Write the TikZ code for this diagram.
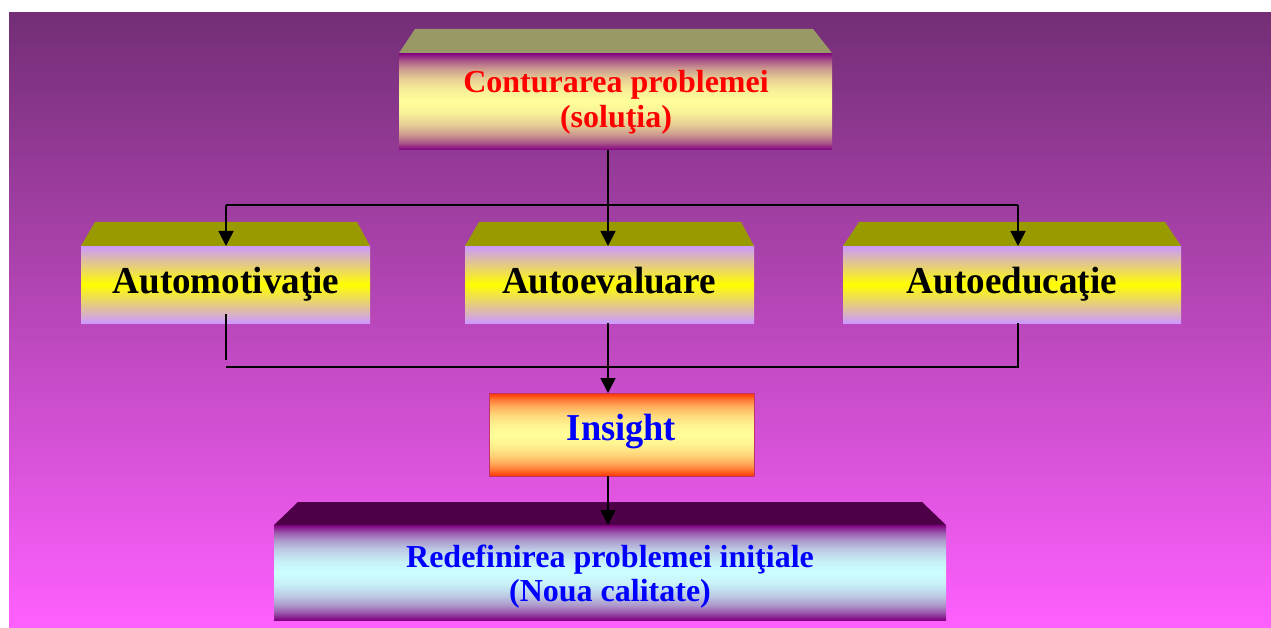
\documentclass[tikz,border=0pt]{standalone}
\usepackage{fontspec}
\setmainfont{Liberation Serif}
\usetikzlibrary{arrows.meta,calc}
\definecolor{bgtop}{RGB}{115,46,118}
\definecolor{bgbot}{RGB}{255,96,255}
\definecolor{pp}{RGB}{128,0,128}
\definecolor{paley}{RGB}{255,255,153}
\definecolor{olivegray}{RGB}{153,153,102}
\definecolor{olivedark}{RGB}{153,153,0}
\definecolor{lav}{RGB}{204,153,255}
\definecolor{yel}{RGB}{255,255,0}
\definecolor{redo}{RGB}{255,51,0}
\definecolor{cyanl}{RGB}{204,255,255}
\definecolor{darkp}{RGB}{77,0,72}
\definecolor{insborder}{RGB}{190,50,110}
\newcommand{\mkprofile}[3]{%
  \pgfdeclareverticalshading{#1}{100bp}{color(0bp)=(#2); color(25bp)=(#2);
    color(29bp)=(#2!65!#3); color(33bp)=(#2!40!#3); color(38bp)=(#2!20!#3);
    color(44bp)=(#2!6!#3); color(50bp)=(#3); color(56bp)=(#2!6!#3);
    color(62bp)=(#2!20!#3); color(67bp)=(#2!40!#3); color(71bp)=(#2!65!#3);
    color(75bp)=(#2); color(100bp)=(#2)}}
\mkprofile{shA}{pp}{paley}
\mkprofile{shC}{redo}{paley}
\mkprofile{shD}{pp}{cyanl}
\begin{document}
\begin{tikzpicture}[x=1pt,y=-1pt,
  box/.style={rectangle, inner sep=0pt, outer sep=0pt},
  frontA/.style={box, shade, shading=shA},
  frontB/.style={box, top color=lav, bottom color=lav, middle color=yel},
  frontC/.style={box, shade, shading=shC, draw=insborder, line width=1pt},
  frontD/.style={box, shade, shading=shD},
  conn/.style={line width=1.7pt, black},
  arr/.style={conn, -{Triangle[width=15pt,length=15pt]}},
  ttop/.style={anchor=base, text=red, font=\fontsize{32}{36}\selectfont\bfseries},
  tmid/.style={anchor=base, text=black, font=\fontsize{38}{42}\selectfont\bfseries},
  tins/.style={anchor=base, text=blue, font=\fontsize{38}{42}\selectfont\bfseries},
  tbot/.style={anchor=base, text=blue, font=\fontsize{32}{36}\selectfont\bfseries}
]
\useasboundingbox (0,0) rectangle (1271,628);
\shade[top color=bgtop, bottom color=bgbot] (9,13) rectangle (1271,628);

% top box
\node[frontA, minimum width=433pt, minimum height=97pt] (top) at (615.5,101.5) {};
\fill[olivegray] (top.north west) -- ++(16,-24) -- ($(top.north east)+(-19,-24)$) -- (top.north east) -- cycle;
\node[ttop] (t1) at (616,92.7) {Conturarea problemei};
\node[ttop] (t2) at (616,128) {(soluţia)};

% middle boxes
\node[frontB, minimum width=289pt, minimum height=77pt] (m1) at (225.5,284.5) {};
\fill[olivedark] (m1.north west) -- ++(14,-24) -- ($(m1.north east)+(-13,-24)$) -- (m1.north east) -- cycle;
\node[frontB, minimum width=289pt, minimum height=77pt] (m2) at (609.5,284.5) {};
\fill[olivedark] (m2.north west) -- ++(14,-24) -- ($(m2.north east)+(-13,-24)$) -- (m2.north east) -- cycle;
\node[frontB, minimum width=338pt, minimum height=77pt] (m3) at (1012,284.5) {};
\fill[olivedark] (m3.north west) -- ++(16,-24) -- ($(m3.north east)+(-16,-24)$) -- (m3.north east) -- cycle;
\node[tmid] (l1) at (226,293) {\scalebox{0.976}[1]{Automotivaţie}};
\node[tmid] (l2) at (609,293) {\scalebox{0.976}[1]{Autoevaluare}};
\node[tmid] (l3) at (1012,293) {\scalebox{0.976}[1]{Autoeducaţie}};

% insight
\node[frontC, minimum width=265pt, minimum height=83pt] (ins) at (621.5,434.5) {};
\node[tins] (li) at (621.5,440.7) {\scalebox{0.957}[1]{Insight}};

% bottom box
\node[frontD, minimum width=672pt, minimum height=95pt] (bot) at (610,572.5) {};
\fill[darkp] (bot.north west) -- ++(24,-23) -- ($(bot.north east)+(-24,-23)$) -- (bot.north east) -- cycle;
\node[tbot] (b1) at (610,567) {Redefinirea problemei iniţiale};
\node[tbot] (b2) at (610,601) {(Noua calitate)};

% connectors
\coordinate (sp) at (608,0);
\coordinate (c1) at (226,0);
\coordinate (c3) at (1018,0);
\coordinate (h1) at (0,205);
\coordinate (h2) at (0,367);
\draw[arr] (top.south -| sp) -- (m2.north -| sp);
\draw[conn] (c1 |- h1) -- (c3 |- h1);
\draw[arr] (c1 |- h1) -- (m1.north -| c1);
\draw[arr] (c3 |- h1) -- (m3.north -| c3);
\coordinate (s1) at ($(m1.south -| c1)+(0,-9)$);
\coordinate (s2) at (c1 |- 0,360);
\draw[conn] (s1) -- (s2);
\draw[conn] (c1 |- h2) -- (c3 |- h2) -- (m3.south -| c3);
\draw[arr] (m2.south -| sp) -- (ins.north -| sp);
\draw[arr] (ins.south -| sp) -- (bot.north -| sp);
\end{tikzpicture}
\end{document}
